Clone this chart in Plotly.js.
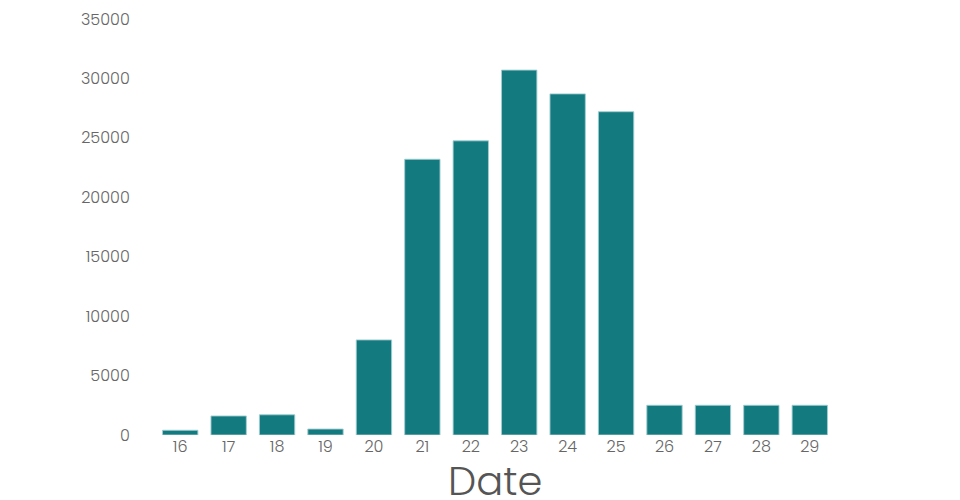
<!DOCTYPE html>
<html>
<head>
<meta charset="utf-8">
<script src="https://cdn.plot.ly/plotly-3.0.1.min.js"></script>
<style>html,body{margin:0;padding:0;background:#fff;}#chart{width:960px;height:500px;}</style>
</head>
<body>
<div id="chart"></div>
<script>
var dates = ["16","17","18","19","20","21","22","23","24","25","26","27","28","29"];
var counts = [400, 1600, 1700, 500, 8000, 23200, 24750, 30700, 28700, 27200, 2500, 2500, 2500, 2500];
var yTicks = [0, 5000, 10000, 15000, 20000, 25000, 30000, 35000];
var xTitle = "Date";

var trace = {
  type: "bar",
  x: dates,
  y: counts,
  marker: {color: "#137a7f", line: {color: "rgba(160,205,208,0.9)", width: 1}},
  hoverinfo: "x+y"
};

var layout = {
  width: 960, height: 500,
  margin: {l: 156, r: 126, t: 19, b: 65},
  paper_bgcolor: "#fff", plot_bgcolor: "#fff",
  bargap: 0.27,
  font: {family: "Poppins, Lato, 'Open Sans', sans-serif", color: "#666", size: 16, weight: 300},
  showlegend: false,
  xaxis: {
    type: "category",
    showgrid: false, zeroline: false, showline: false,
    ticks: "", tickfont: {size: 16, color: "#666", weight: 300}
  },
  yaxis: {
    range: [0, 35000],
    tickvals: yTicks,
    ticktext: yTicks.map(String),
    showgrid: false, zeroline: false, showline: false,
    ticks: "outside", ticklen: 22, tickcolor: "rgba(0,0,0,0)",
    tickfont: {size: 16, color: "#666", weight: 300}
  },
  annotations: [{
    text: xTitle, xref: "paper", yref: "paper", x: 0.5, y: 0,
    xanchor: "center", yanchor: "top", yshift: -16, showarrow: false,
    font: {size: 40, color: "#555", weight: 300}
  }]
};

Plotly.newPlot("chart", [trace], layout, {displayModeBar: false});
</script>
</body>
</html>
